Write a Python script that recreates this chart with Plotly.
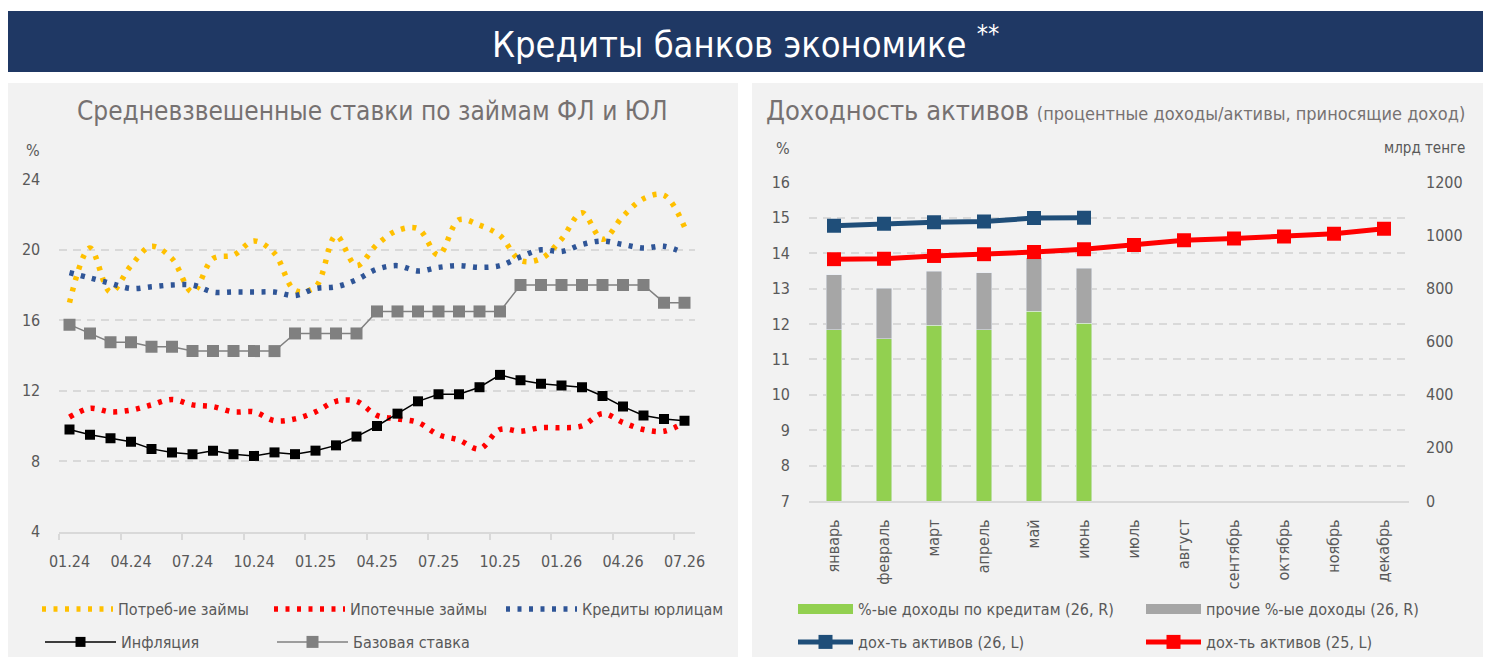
import plotly.graph_objects as go

# the page has an 8px body margin, so the figure is a bit smaller than the window
OFF = 8
W, H = 1491 - 2 * OFF, 666 - 2 * OFF

# left chart data
months = ['01.24', '02.24', '03.24', '04.24', '05.24', '06.24', '07.24', '08.24', '09.24', '10.24',
          '11.24', '12.24', '01.25', '02.25', '03.25', '04.25', '05.25', '06.25', '07.25', '08.25',
          '09.25', '10.25', '11.25', '12.25', '01.26', '02.26', '03.26', '04.26', '05.26', '06.26', '07.26']
consumer = [17.0, 20.1, 17.6, 19.1, 20.2, 19.5, 17.6, 19.5, 19.7, 20.5, 19.8, 17.7, 17.9, 20.8, 19.1, 20.3,
            21.1, 21.2, 19.7, 21.7, 21.4, 20.8, 19.4, 19.5, 20.6, 22.1, 20.6, 21.9, 22.9, 23.1, 21.3]
mortgage = [10.5, 11.0, 10.8, 10.9, 11.2, 11.5, 11.2, 11.1, 10.8, 10.8, 10.3, 10.4, 10.8, 11.4, 11.4, 10.6,
            10.4, 10.2, 9.5, 9.2, 8.7, 9.8, 9.7, 9.9, 9.9, 10.0, 10.7, 10.2, 9.8, 9.7, 10.2]
corporate = [18.7, 18.4, 18.1, 17.8, 17.9, 18.0, 18.0, 17.6, 17.6, 17.6, 17.6, 17.4, 17.8, 17.9, 18.3, 18.9,
             19.1, 18.8, 19.0, 19.1, 19.0, 19.1, 19.6, 20.0, 19.9, 20.3, 20.5, 20.3, 20.1, 20.2, 19.8]
inflation = [9.8, 9.5, 9.3, 9.1, 8.7, 8.5, 8.4, 8.6, 8.4, 8.3, 8.5, 8.4, 8.6, 8.9, 9.4, 10.0,
             10.7, 11.4, 11.8, 11.8, 12.2, 12.9, 12.6, 12.4, 12.3, 12.2, 11.7, 11.1, 10.6, 10.4, 10.3]
base_rate = [15.75, 15.25, 14.75, 14.75, 14.5, 14.5, 14.25, 14.25, 14.25, 14.25, 14.25, 15.25, 15.25, 15.25,
             15.25, 16.5, 16.5, 16.5, 16.5, 16.5, 16.5, 16.5, 18.0, 18.0, 18.0, 18.0, 18.0, 18.0, 18.0, 17.0, 17.0]

# right chart data
months_ru = ['январь', 'февраль', 'март', 'апрель', 'май', 'июнь', 'июль', 'август',
             'сентябрь', 'октябрь', 'ноябрь', 'декабрь']
loan_income = [644, 610, 661, 644, 715, 669]
other_income = [207, 192, 205, 216, 200, 207]
yield_26 = [14.77, 14.83, 14.87, 14.89, 14.99, 15.0]
yield_25 = [13.83, 13.84, 13.92, 13.97, 14.03, 14.11, 14.23, 14.36, 14.41, 14.47, 14.55, 14.69]

FONT = 'Liberation Sans Narrow, DejaVu Sans Condensed, Roboto, sans-serif'
GRAY = '#595959'
GRID = '#d9d9d9'


def px(x):
    # page pixel -> paper fraction
    return (x - OFF) / W


def py(y):
    return 1 - (y - OFF) / H


idx = list(range(len(months)))
fig = go.Figure()

dots = '4px,7.5px'
fig.add_trace(go.Scatter(x=idx, y=consumer, name='Потреб-ие займы', mode='lines', line_shape='spline',
                         line=dict(color='#ffc000', width=5.5, dash=dots), legend='legend'))
fig.add_trace(go.Scatter(x=idx, y=mortgage, name='Ипотечные займы', mode='lines', line_shape='spline',
                         line=dict(color='#ff0000', width=5.5, dash=dots), legend='legend'))
fig.add_trace(go.Scatter(x=idx, y=corporate, name='Кредиты юрлицам', mode='lines', line_shape='spline',
                         line=dict(color='#2f5597', width=5.5, dash=dots), legend='legend'))
fig.add_trace(go.Scatter(x=idx, y=inflation, name='Инфляция', mode='lines+markers',
                         line=dict(color='black', width=1.5),
                         marker=dict(symbol='square', size=10, color='black'), legend='legend2'))
fig.add_trace(go.Scatter(x=idx, y=base_rate, name='Базовая ставка', mode='lines+markers',
                         line=dict(color='#808080', width=1.5),
                         marker=dict(symbol='square', size=12, color='#808080'), legend='legend2'))

# right chart: bars on base axis (y3), lines on overlay (y4)
fig.add_trace(go.Bar(x=months_ru[:len(loan_income)], y=loan_income, marker_color='#92d050', width=0.31,
                     xaxis='x2', yaxis='y3', showlegend=False))
fig.add_trace(go.Bar(x=months_ru[:len(other_income)], y=other_income, marker_color='#a6a6a6', width=0.31,
                     xaxis='x2', yaxis='y3', showlegend=False))
fig.add_trace(go.Scatter(x=[None], y=[None], mode='lines', name='%-ые доходы по кредитам (26, R)',
                         line=dict(color='#92d050', width=12), xaxis='x2', yaxis='y3', legend='legend3'))
fig.add_trace(go.Scatter(x=[None], y=[None], mode='lines', name='прочие %-ые доходы (26, R)',
                         line=dict(color='#a6a6a6', width=12), xaxis='x2', yaxis='y3', legend='legend3'))
fig.add_trace(go.Scatter(x=months_ru[:len(yield_26)], y=yield_26, name='дох-ть активов (26, L)',
                         mode='lines+markers', line=dict(color='#1f4e79', width=5),
                         marker=dict(symbol='square', size=14, color='#1f4e79'),
                         xaxis='x2', yaxis='y4', legend='legend4'))
fig.add_trace(go.Scatter(x=months_ru, y=yield_25, name='дох-ть активов (25, L)',
                         mode='lines+markers', line=dict(color='#ff0000', width=5),
                         marker=dict(symbol='square', size=14, color='#ff0000'),
                         xaxis='x2', yaxis='y4', legend='legend4'))

tickfont = dict(family=FONT, size=16, color=GRAY)
legfont = dict(family=FONT, size=16, color=GRAY)

shapes = [
    dict(type='rect', xref='paper', yref='paper', x0=px(8), x1=px(1483), y0=py(72), y1=py(11),
         fillcolor='#1f3864', line_width=0, layer='below'),
    dict(type='rect', xref='paper', yref='paper', x0=px(8), x1=px(738), y0=py(657), y1=py(83),
         fillcolor='#f2f2f2', line_width=0, layer='below'),
    dict(type='rect', xref='paper', yref='paper', x0=px(752), x1=px(1483), y0=py(657), y1=py(83),
         fillcolor='#f2f2f2', line_width=0, layer='below'),
]


def label(text, x, y, size, color=GRAY, xanchor='center'):
    return dict(text=text, x=px(x), y=py(y), xref='paper', yref='paper', showarrow=False,
                xanchor=xanchor, yanchor='middle', font=dict(family=FONT, size=size, color=color))


annotations = [
    label('Кредиты банков экономике <sup>**</sup>', 745, 42, 36, 'white'),
    label('Средневзвешенные ставки по займам ФЛ и ЮЛ', 372, 111, 26, '#767171'),
    label('Доходность активов <span style="font-size:18px">(процентные доходы/активы, приносящие доход)</span>',
          764, 111, 27, '#767171', 'left'),
    label('%', 33, 150, 16),
    label('%', 783, 148, 16),
    label('млрд тенге', 1424, 148, 15),
]

leg_common = dict(orientation='h', xanchor='left', yanchor='middle', bgcolor='rgba(0,0,0,0)',
                  font=legfont, entrywidthmode='pixels', traceorder='normal')

fig.update_layout(
    width=W, height=H,
    margin=dict(l=0, r=0, t=0, b=0, autoexpand=False),
    paper_bgcolor='white', plot_bgcolor='rgba(0,0,0,0)',
    font=dict(family=FONT, color=GRAY),
    shapes=shapes, annotations=annotations,
    xaxis=dict(domain=[px(59.25), px(694.75)], anchor='y', range=[-0.5, len(months) - 0.5], automargin=False,
               tickmode='array', tickvals=idx[::3], ticktext=months[::3], ticks='', tickfont=tickfont,
               ticklabelstandoff=14, showgrid=False, zeroline=False,
               showline=True, linecolor=GRID, linewidth=2,
               minor=dict(tickmode='array', tickvals=[i - 0.5 for i in idx[::3]], ticks='outside',
                          ticklen=6, tickcolor=GRID, tickwidth=2, showgrid=False)),
    yaxis=dict(domain=[py(531.7), py(179.3)], anchor='x', range=[4, 24], dtick=4, tickfont=tickfont,
               automargin=False, ticklabelstandoff=18, showgrid=True, gridcolor=GRID, griddash='8px,6px',
               gridwidth=2, zeroline=False, showline=False),
    xaxis2=dict(domain=[px(809), px(1409)], anchor='y3', type='category', categoryorder='array',
                categoryarray=months_ru, range=[-0.5, 11.5], tickangle=-90, tickfont=tickfont,
                automargin=False, ticklabelstandoff=10, ticks='', showgrid=False,
                showline=True, linecolor=GRID, linewidth=2),
    yaxis3=dict(domain=[py(501), py(182.3)], anchor='x2', side='right', range=[0, 1200], dtick=200,
                tickfont=tickfont, automargin=False, ticklabelstandoff=16, showgrid=False,
                zeroline=False, showline=False),
    yaxis4=dict(overlaying='y3', anchor='x2', side='left', range=[7, 16], dtick=1, tickfont=tickfont,
                automargin=False, ticklabelstandoff=18, showgrid=True, gridcolor=GRID, griddash='8px,6px',
                gridwidth=2, zeroline=False, showline=False),
    barmode='stack',
    legend=dict(x=px(37), y=py(609), itemwidth=71, entrywidth=146, **leg_common),
    legend2=dict(x=px(40), y=py(642), itemwidth=71, entrywidth=146, **leg_common),
    legend3=dict(x=px(793), y=py(609), itemwidth=55, entrywidth=278, **leg_common),
    legend4=dict(x=px(793), y=py(642), itemwidth=55, entrywidth=278, **leg_common),
)

fig.write_html('out.html')
